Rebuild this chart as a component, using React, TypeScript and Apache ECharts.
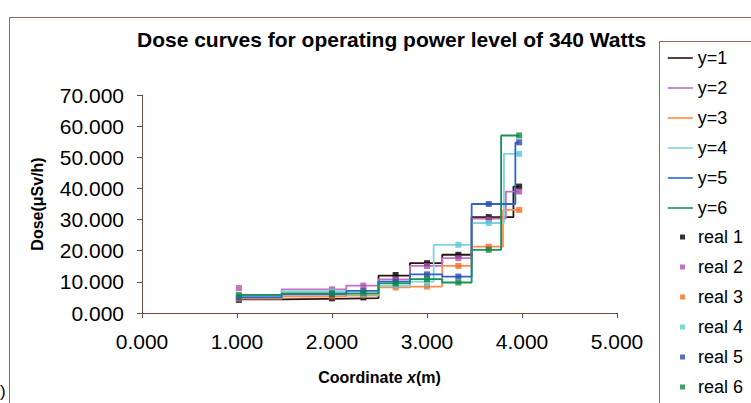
import React, { useEffect, useRef } from "react";
import * as echarts from "echarts";

// Step-curve breakpoints (x where each flat segment starts) and values
const c1X = [1.02, 1.47, 2.15, 2.49, 2.82, 3.16, 3.47, 3.91, 3.97];
const c1Y = [4.4, 4.6, 4.8, 12.0, 16.0, 18.7, 30.8, 40.6, 40.6];
const c2X = [1.02, 1.47, 2.15, 2.49, 2.82, 3.16, 3.47, 3.83, 3.97];
const c2Y = [5.5, 7.6, 8.8, 10.8, 15.1, 17.6, 30.3, 39.0, 39.0];
const c3X = [1.02, 1.47, 2.15, 2.49, 2.82, 3.16, 3.47, 3.8, 3.97];
const c3Y = [4.6, 5.3, 5.6, 8.2, 8.5, 15.1, 21.3, 33.1, 33.1];
const c4X = [1.02, 1.47, 2.15, 2.49, 2.82, 3.07, 3.47, 3.81, 3.97];
const c4Y = [5.0, 6.9, 6.0, 8.7, 10.1, 21.9, 28.9, 51.1, 51.1];
const c5X = [1.02, 1.47, 2.15, 2.49, 2.82, 3.16, 3.47, 3.93, 3.97];
const c5Y = [5.0, 6.0, 7.1, 10.1, 12.4, 11.7, 35.0, 54.7, 54.7];
const c6X = [1.02, 1.47, 2.15, 2.49, 2.82, 3.16, 3.47, 3.78, 3.97];
const c6Y = [5.8, 6.3, 6.3, 9.5, 10.9, 9.8, 20.3, 57.0, 57.0];

// Measured points
const realX = [1.02, 2.0, 2.33, 2.67, 3.0, 3.33, 3.65, 3.97];
const real1 = [4.2, 4.7, 5.0, 12.2, 16.0, 18.7, 30.8, 40.6];
const real2 = [8.0, 7.6, 8.8, 10.8, 15.1, 17.6, 30.0, 39.0];
const real3 = [4.6, 5.3, 5.6, 8.2, 8.5, 15.1, 21.3, 33.1];
const real4 = [5.0, 6.9, 6.0, 8.9, 9.5, 21.9, 28.9, 51.1];
const real5 = [5.0, 6.0, 7.1, 10.1, 12.4, 11.7, 35.0, 54.8];
const real6 = [5.8, 6.3, 6.5, 9.5, 10.9, 9.8, 20.3, 57.0];

const curveNames = ["y=1", "y=2", "y=3", "y=4", "y=5", "y=6"];
const realNames = ["real 1", "real 2", "real 3", "real 4", "real 5", "real 6"];
const lineColors = ["#2a1410", "#c46ec4", "#ff8c4a", "#7ed4e0", "#2a66cc", "#12945a"];
const markColors = ["#000000", "#b050b0", "#ff6a20", "#5cc8d8", "#2848b0", "#108840"];

const xTicks = { min: 0, max: 5, interval: 1 };
const yTicks = { min: 0, max: 70, interval: 10 };

const FONT = "'Liberation Sans', Arial, sans-serif";

export default function App() {
  const ref = useRef<HTMLDivElement>(null);
  useEffect(() => {
    document.body.style.margin = "0";
    if (!ref.current) return;
    const chart = echarts.init(ref.current, undefined, { renderer: "svg" });
    const curvesX = [c1X, c2X, c3X, c4X, c5X, c6X];
    const curvesY = [c1Y, c2Y, c3Y, c4Y, c5Y, c6Y];
    const reals = [real1, real2, real3, real4, real5, real6];
    const lineSeries = curveNames.map((n, i) => ({
      name: n,
      type: "line",
      step: "end",
      symbol: "none",
      data: curvesX[i].map((x, j) => [x, curvesY[i][j]]),
      lineStyle: { color: lineColors[i], width: 1.8 },
      itemStyle: { color: lineColors[i] },
      z: 2,
    }));
    const scatterSeries = realNames.map((n, i) => ({
      name: n,
      type: "scatter",
      symbol: "rect",
      symbolSize: 6,
      data: realX.map((x, j) => [x, reals[i][j]]),
      itemStyle: { color: markColors[i] },
      z: 3,
    }));
    const axisColor = "#6e4c40";
    chart.setOption({
      animation: false,
      backgroundColor: "#ffffff",
      title: {
        text: "Dose curves for operating power level of 340 Watts",
        left: 137,
        top: 29,
        padding: 0,
        textStyle: { fontFamily: FONT, fontSize: 21, fontWeight: "bold", color: "#000" },
      },
      grid: { left: 142, right: 134, top: 95, bottom: 90 },
      xAxis: {
        type: "value",
        ...xTicks,
        axisLine: { show: true, lineStyle: { color: axisColor, width: 1 } },
        axisTick: { show: true, length: 5, lineStyle: { color: axisColor } },
        splitLine: { show: false },
        axisLabel: {
          margin: 18,
          fontFamily: FONT,
          fontSize: 21,
          color: "#000",
          formatter: (v: number) => v.toFixed(3),
        },
        name: "{a|Coordinate }{b|x}{a|(m)}",
        nameLocation: "middle",
        nameGap: 56,
        nameTextStyle: {
          rich: {
            a: { fontFamily: FONT, fontSize: 16, fontWeight: "bold", color: "#000" },
            b: { fontFamily: FONT, fontSize: 16, fontWeight: "bold", fontStyle: "italic", color: "#000" },
          },
        },
      },
      yAxis: {
        type: "value",
        ...yTicks,
        axisLine: { show: true, lineStyle: { color: axisColor, width: 1 } },
        axisTick: { show: true, length: 5, lineStyle: { color: axisColor } },
        splitLine: { show: false },
        axisLabel: {
          margin: 18,
          fontFamily: FONT,
          fontSize: 21,
          color: "#000",
          formatter: (v: number) => v.toFixed(3),
        },
        name: "Dose(μSv/h)",
        nameLocation: "middle",
        nameGap: 97,
        nameTextStyle: { fontFamily: FONT, fontSize: 16, fontWeight: "bold", color: "#000" },
      },
      legend: [
        {
          data: curveNames,
          orient: "vertical",
          left: 667,
          top: 49,
          padding: 0,
          itemGap: 12,
          itemWidth: 25,
          itemHeight: 14,
          itemStyle: { opacity: 0, color: "rgba(0,0,0,0)", borderWidth: 0 },
          lineStyle: { width: 1.6 },
          textStyle: { fontFamily: FONT, fontSize: 18, lineHeight: 18, color: "#000" },
        },
        {
          data: realNames,
          orient: "vertical",
          left: 680,
          top: 228,
          padding: 0,
          itemGap: 12,
          itemWidth: 5,
          itemHeight: 5,
          icon: "rect",
          textStyle: { fontFamily: FONT, fontSize: 18, lineHeight: 18, color: "#000", padding: [0, 0, 0, 8] },
        },
      ],
      graphic: [
        {
          type: "rect",
          shape: { x: 9.5, y: 17.5, width: 800, height: 500 },
          style: { fill: "none", stroke: "#8a6a5e", lineWidth: 1 },
          silent: true,
          z: -1,
        },
        {
          type: "rect",
          shape: { x: 659.5, y: 41.5, width: 120, height: 400 },
          style: { fill: "none", stroke: "#8a6a5e", lineWidth: 1 },
          silent: true,
          z: -1,
        },
        {
          type: "text",
          x: 0,
          y: 383,
          style: { text: ")", fontFamily: FONT, fontSize: 17, fill: "#000" },
          silent: true,
        },
      ],
      series: [...lineSeries, ...scatterSeries],
    });
    return () => chart.dispose();
  }, []);
  return <div ref={ref} style={{ width: 751, height: 403 }} />;
}
